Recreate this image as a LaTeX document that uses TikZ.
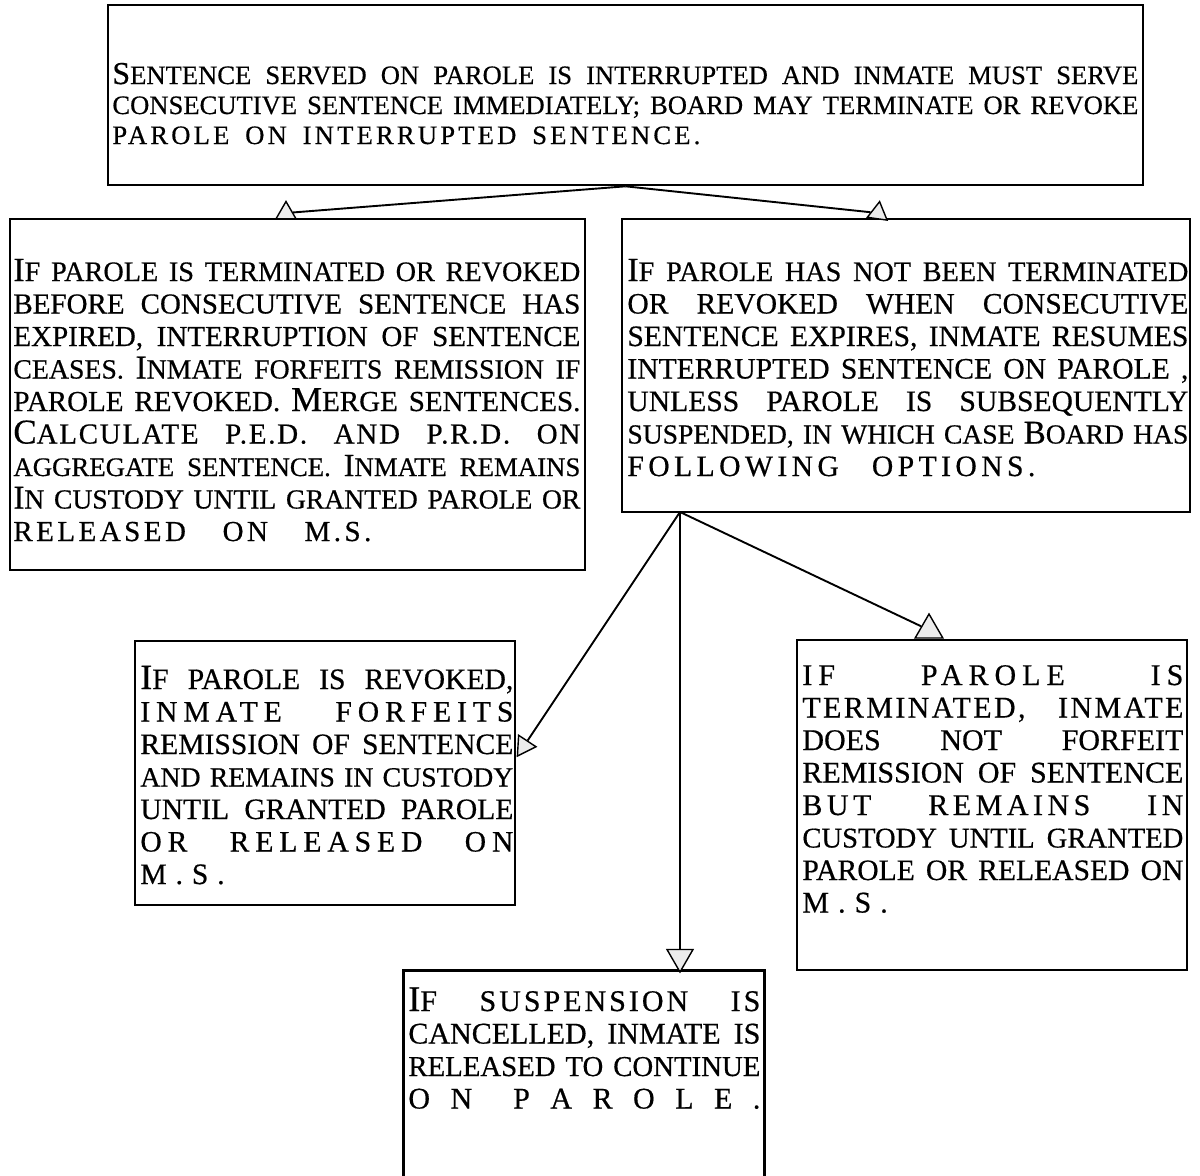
\documentclass[tikz,border=0pt]{standalone}
\usepackage{fontspec}
\setmainfont{Liberation Serif}[FakeBold=0.5]
\usetikzlibrary{shapes.geometric}
\makeatletter
\newcommand\Bg[1]{{\fontsize{\strip@pt\dimexpr\f@size pt*6/5\relax}{16}\selectfont #1}}
\makeatother
\newcommand\fs[1]{\fontsize{#1}{16.25}\selectfont}
\def\LnAux#1 #2\relax{#1\ifx\relax#2\relax\else\hskip .25em plus 1fil\relax\LnAux#2\relax\fi}
\newcommand\Ln[2][]{\leavevmode\hbox to\hsize{#1\LnAux#2 \relax}}
\newcommand\LnS[3][]{\leavevmode\hbox to\hsize{#1\addfontfeature{LetterSpace=#2}\LnAux#3 \relax}}
\newcommand\LnW[3]{\leavevmode\hbox to#1{\addfontfeature{LetterSpace=#2}\LnAux#3 \relax}}
\newcommand\Sp[2]{\leavevmode{\addfontfeature{LetterSpace=#1}#2}}
\begin{document}
\begin{tikzpicture}[x=0.5pt,y=-0.5pt,
  frame/.style={draw, line width=1.3pt, inner sep=0pt},
  txt/.style={anchor=base west, inner sep=0pt, align=left},
  tri/.style={draw, line width=0.7pt, fill=gray!15, regular polygon,
    regular polygon sides=3, inner sep=0pt},
  conn/.style={line width=0.95pt}]
\useasboundingbox (0,0) rectangle (1200,1175);
\fill[white] (0,0) rectangle (1200,1175);

% frames
\node[frame, minimum width=517.5pt, minimum height=90pt] (nTop) at (625.5,95) {};
\node[frame, minimum width=287.5pt, minimum height=175.5pt] (nL) at (297.5,394.5) {};
\node[frame, minimum width=284pt, minimum height=146.5pt] (nR) at (906,365.5) {};
\node[frame, minimum width=190pt, minimum height=132pt] (nBL) at (325,773) {};
\node[frame, minimum width=195pt, minimum height=165pt] (nBR) at (992,805) {};
\node[frame, draw=none, minimum width=179pt, minimum height=102pt] (nBC) at (584,1074) {};
\draw[line width=1.3pt] (nBC.south west) -- (nBC.north west)
  -- (nBC.north east) -- (nBC.south east);

% texts
\node[txt, text width=513pt, font=\fontsize{13.3}{15}\selectfont] (xTop) at (112,84) {%
\Ln{\Bg{S}ENTENCE SERVED ON PAROLE IS INTERRUPTED AND INMATE MUST SERVE}\\
\Ln{CONSECUTIVE SENTENCE IMMEDIATELY; BOARD MAY TERMINATE OR REVOKE}\\
\LnW{294pt}{12}{PAROLE ON INTERRUPTED SENTENCE.}};

\node[txt, text width=283.5pt, font=\fontsize{14.5}{16.25}\selectfont] (xL) at (13,281) {%
\Ln[\fs{14.1}]{\Bg{I}F PAROLE IS TERMINATED OR REVOKED}\\
\Ln{BEFORE CONSECUTIVE SENTENCE HAS}\\
\Ln{EXPIRED, INTERRUPTION OF SENTENCE}\\
\Ln[\fs{13.9}]{CEASES. \Bg{I}NMATE FORFEITS REMISSION IF}\\
\Ln{PAROLE REVOKED. \Bg{M}ERGE SENTENCES.}\\
\LnS{6}{\Bg{C}ALCULATE P.E.D. AND P.R.D. ON}\\
\Ln[\fs{13.4}]{AGGREGATE SENTENCE. \Bg{I}NMATE REMAINS}\\
\Ln[\fs{13.8}]{\Bg{I}N CUSTODY UNTIL GRANTED PAROLE OR}\\
\LnW{179pt}{12}{RELEASED ON M.S.}};

\node[txt, text width=280.5pt, font=\fontsize{14.8}{16.25}\selectfont] (xR) at (627,281) {%
\Ln[\fs{14.1}]{\Bg{I}F PAROLE HAS NOT BEEN TERMINATED}\\
\Ln{OR REVOKED WHEN CONSECUTIVE}\\
\Ln{SENTENCE EXPIRES, INMATE RESUMES}\\
\Ln{INTERRUPTED SENTENCE ON PAROLE ,}\\
\Ln{UNLESS PAROLE IS SUBSEQUENTLY}\\
\Ln[\fs{13.8}]{SUSPENDED, IN WHICH CASE \Bg{B}OARD HAS}\\
\LnW{204pt}{15}{FOLLOWING OPTIONS.}};

\node[txt, text width=186.5pt, font=\fontsize{14.8}{16.25}\selectfont] (xBL) at (140,689) {%
\Ln{\Bg{I}F PAROLE IS REVOKED,}\\
\LnS{20}{INMATE FORFEITS}\\
\Ln{REMISSION OF SENTENCE}\\
\Ln[\fs{13.9}]{AND REMAINS IN CUSTODY}\\
\Ln{UNTIL GRANTED PAROLE}\\
\LnS{20}{OR RELEASED ON}\\
\Sp{30}{M.S.}};

\node[txt, text width=190.5pt, font=\fontsize{15}{16.25}\selectfont] (xBR) at (802,685) {%
\LnS{20}{IF PAROLE IS}\\
\LnS{8}{TERMINATED, INMATE}\\
\Ln{DOES NOT FORFEIT}\\
\Ln{REMISSION OF SENTENCE}\\
\LnS{15}{BUT REMAINS IN}\\
\Ln[\fs{14.3}]{CUSTODY UNTIL GRANTED}\\
\Ln[\fs{14.8}]{PAROLE OR RELEASED ON}\\
\Sp{30}{M.S.}};

\node[txt, text width=176pt, font=\fontsize{15}{16.25}\selectfont] (xBC) at (408,1011) {%
\LnS{10}{\Bg{I}F SUSPENSION IS}\\
\Ln{CANCELLED, INMATE IS}\\
\Ln[\fs{14.4}]{RELEASED TO CONTINUE}\\
\Ln{O N {} P A R O L E .}};

% arrow heads
\node[tri, minimum size=11.5pt] (tA) at (286,213) {};
\node[tri, minimum size=11.5pt, rotate=-8] (tB) at (878,213) {};
\node[tri, minimum size=12pt, rotate=146.6] (tC) at (524,746) {};
\node[tri, minimum size=15pt, rotate=180] (tD) at (680,957) {};
\node[tri, minimum size=16pt] (tE) at (929,630) {};

% connectors
\coordinate (rOut) at (680,512);
\draw[conn] (nTop.south) -- (tA);
\draw[conn] (nTop.south) -- (tB);
\draw[conn] (rOut) -- (tC);
\draw[conn] (rOut) -- (tD);
\draw[conn] (rOut) -- (tE);
\end{tikzpicture}
\end{document}
